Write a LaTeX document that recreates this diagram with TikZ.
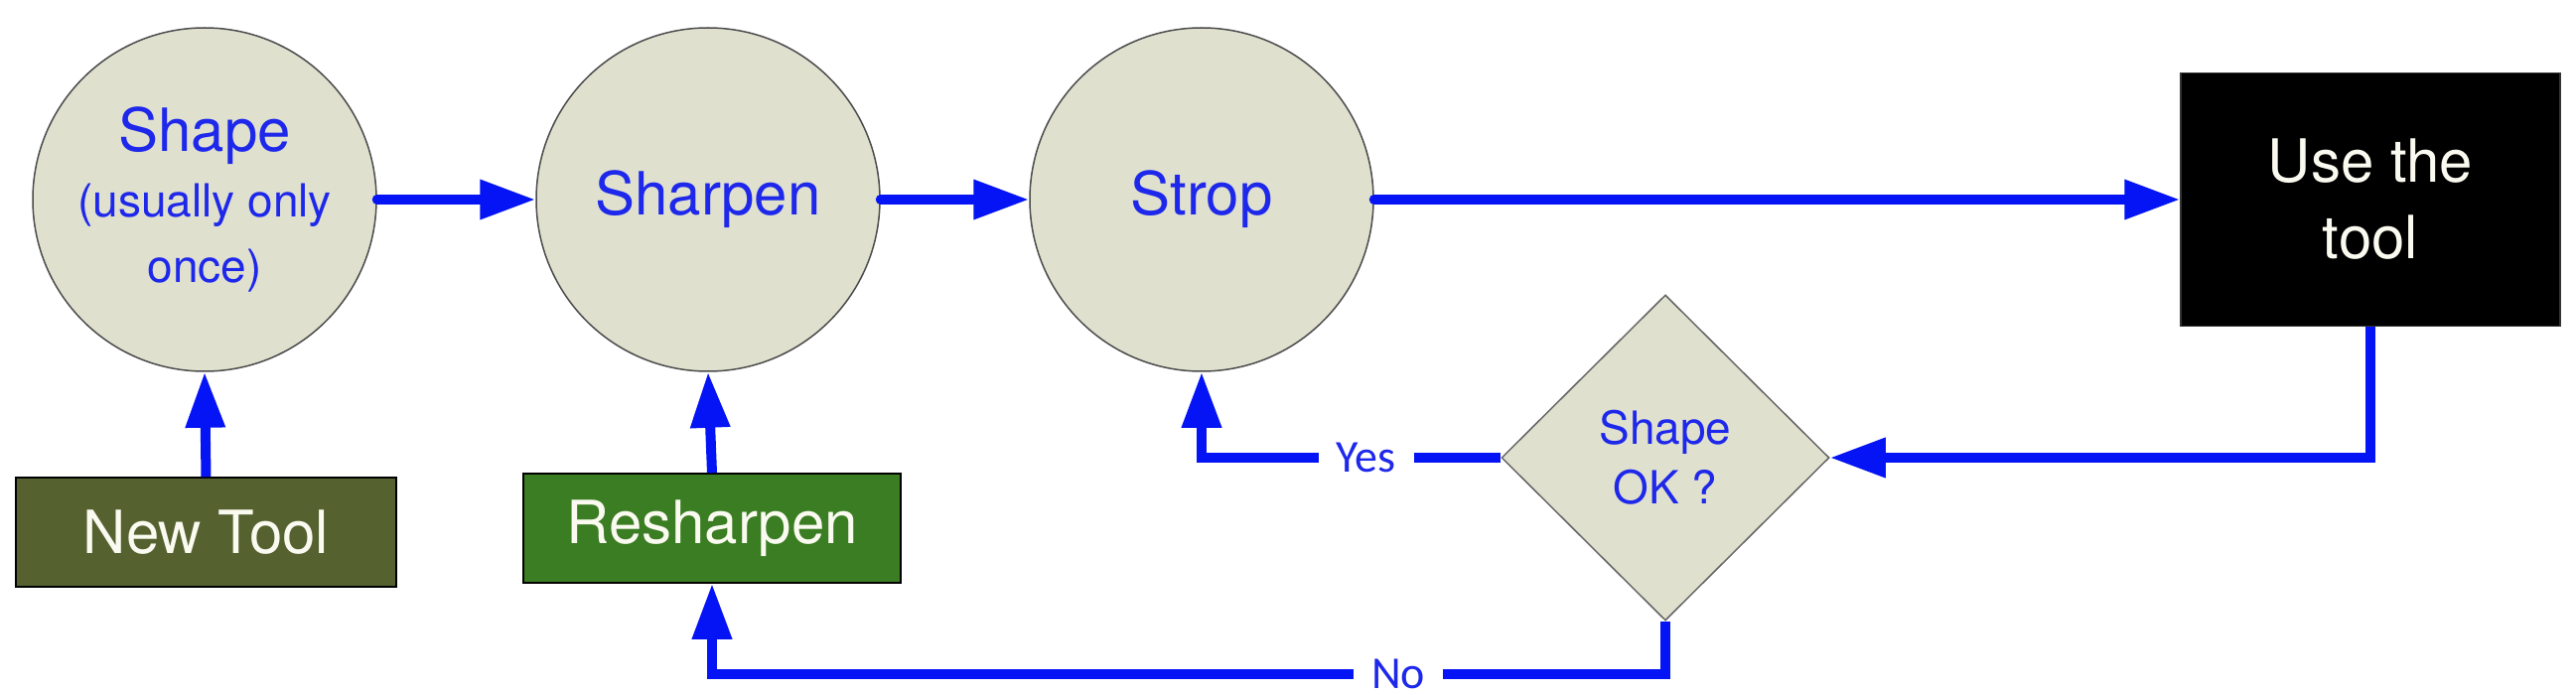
\documentclass[tikz,border=0pt]{standalone}
\usepackage{fontspec}
\setmainfont{TeX Gyre Heros}
\newfontfamily\carlito{Carlito}
\usetikzlibrary{shapes.geometric,arrows.meta}
\definecolor{lineblue}{RGB}{5,20,245}
\definecolor{textblue}{RGB}{30,40,235}
\definecolor{circfill}{RGB}{223,224,206}
\definecolor{olivebox}{RGB}{85,98,48}
\definecolor{greenbox}{RGB}{58,125,35}
\definecolor{textwhite}{RGB}{250,250,240}
\tikzset{
  circnode/.style={circle, minimum size=346pt, inner sep=0pt, fill=circfill, draw=black!70, line width=1.5pt, text=textblue, font=\fontsize{60}{66}\selectfont, align=center},
  boxnode/.style={rectangle, inner sep=0pt, draw=black, line width=1.5pt, text=textwhite, font=\fontsize{60}{77}\selectfont, align=center},
  dianode/.style={diamond, minimum width=330pt, minimum height=328pt, inner sep=0pt, fill=circfill, draw=black!60, line width=1.5pt, text=textblue, font=\fontsize{46}{60}\selectfont, align=center},
  conn/.style={draw=lineblue, line width=10pt, -{Triangle[length=56pt,width=38pt]}},
  edgelabel/.style={fill=white, text=textblue, font=\carlito\fontsize{46}{50}\selectfont, inner xsep=18pt, inner ysep=0pt}
}
\begin{document}
\begin{tikzpicture}[x=1pt, y=-1pt]
\path[use as bounding box] (0,0) rectangle (2594,700);
\node[circnode] (c1) at (206,201) {{\fontsize{60}{66}\selectfont Shape}\\ \fontsize{46}{67}\selectfont (usually only\\ \fontsize{46}{67}\selectfont once)};
\node[circnode] (c2) at (713,201) {Sharpen};
\node[circnode] (c3) at (1210,201) {Strop};
\node[boxnode, fill=black, draw=black!80, minimum width=382pt, minimum height=255pt] (use) at (2387,201) {Use the\\tool};
\node[boxnode, fill=olivebox, minimum width=383pt, minimum height=110pt] (newtool) at (207.5,536) {New Tool};
\node[boxnode, fill=greenbox, minimum width=380pt, minimum height=110pt] (resharpen) at (717,532) {Resharpen};
\node[dianode] (dia) at (1677,461) {Shape\\OK ?};
\coordinate (nobase) at (0,679);
\draw[conn, line cap=round] (c1.east) -- (c2.west);
\draw[conn, line cap=round] (c2.east) -- (c3.west);
\draw[conn, line cap=round] (c3.east) -- (use.west);
\draw[conn] (newtool.north) -- (c1.south);
\draw[conn] (resharpen.north) -- (c2.south);
\draw[conn] (use.south) -- (use.south |- dia.east) -- (dia.east);
\draw[conn] (dia.west) -- node[edgelabel, pos=0.45] {Yes} (c3.south |- dia.west) -- (c3.south);
\draw[conn] (dia.south) -- (dia.south |- nobase) -- node[edgelabel, pos=0.28] {No} (resharpen.south |- nobase) -- (resharpen.south);
\end{tikzpicture}
\end{document}
